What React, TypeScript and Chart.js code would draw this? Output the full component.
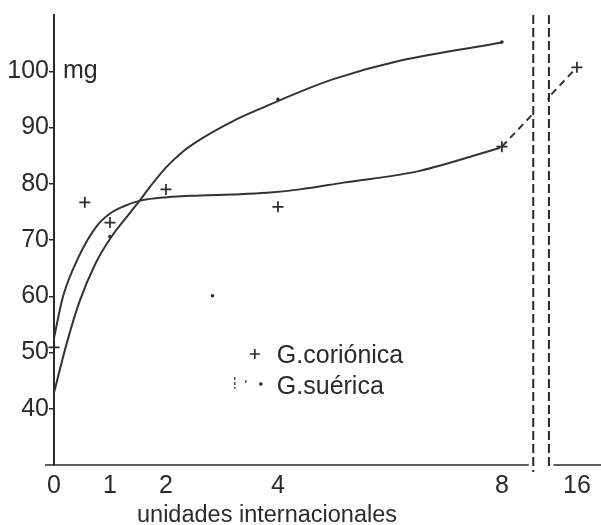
import React, { useEffect, useRef } from "react";
import { Chart, registerables } from "chart.js";

Chart.register(...registerables);

// ---- data ----
// x tick doses (unidades internacionales) and their labels
const xTickDoses = [0, 1, 2, 4, 8, 16];
const xTickLabels = ["0", "1", "2", "4", "8", "16"];
const yTickValues = [40, 50, 60, 70, 80, 90, 100];

// fitted curve, G. coriónica
const corCurveX = [0, 0.16, 0.44, 0.75, 1.0, 1.25, 1.54, 2.02, 2.61, 3.2, 3.8, 4.39, 5.17, 6.49, 7.97];
const corCurveY = [52.6, 59.9, 67.0, 72.3, 74.7, 76.0, 77.0, 77.6, 77.9, 78.1, 78.4, 79.0, 80.2, 82.2, 86.4];

// fitted curve, G. suérica
const serCurveX = [0, 0.21, 0.45, 0.75, 1.02, 1.34, 1.53, 1.71, 2.01, 2.3, 2.6, 3.19, 3.79, 4.38, 4.99, 6.19, 8.02];
const serCurveY = [42.8, 51.0, 58.9, 66.0, 70.5, 74.6, 77.0, 79.4, 83.0, 85.7, 87.8, 91.1, 93.8, 96.3, 98.6, 101.9, 105.1];

// measured points, G. coriónica (+)
const corPointX = [0, 0.55, 1, 2, 4, 8, 16];
const corPointY = [50.9, 76.7, 73.1, 79.0, 75.9, 86.6, 100.7];

// dashed extension to 16 U
const corExtX = [8, 16];
const corExtY = [86.6, 100.7];

// measured points, G. suérica (·)
const serPointX = [1, 2.83, 4, 8];
const serPointY = [70.6, 60.1, 95.0, 105.2];

// ---- axis mapping (broken axis after 8) ----
const axisPos = (d: number) => (d <= 8 ? d : 8 + (d - 8) * (1.34 / 8));
const ink = "#2a2a2a";
const lineInk = "#333333";
const family = "'Liberation Sans', Arial, sans-serif";

const toXY = (xs: number[], ys: number[]) => xs.map((x, i) => ({ x: axisPos(x), y: ys[i] }));

const decor = {
  id: "decor",
  afterDatasetsDraw(chart: any) {
    const { ctx, scales, chartArea } = chart;
    const x = scales.x;
    const y = scales.y;
    const b1 = x.getPixelForValue(8.56);
    const b2 = x.getPixelForValue(8.84);
    const base = y.getPixelForValue(30);
    ctx.save();
    // gap between break lines
    ctx.fillStyle = "#ffffff";
    ctx.fillRect(b1 + 1.5, chartArea.top - 5, b2 - b1 - 3, base - chartArea.top + 20);
    // x axis segments
    ctx.strokeStyle = ink;
    ctx.lineWidth = 1.6;
    ctx.beginPath();
    ctx.moveTo(x.getPixelForValue(0) - 9, base);
    ctx.lineTo(x.getPixelForValue(8.48), base);
    ctx.moveTo(x.getPixelForValue(8.92), base);
    ctx.lineTo(chart.width, base);
    ctx.stroke();
    // break lines
    ctx.lineWidth = 2;
    ctx.setLineDash([9, 4]);
    ctx.beginPath();
    ctx.moveTo(b1, chartArea.top);
    ctx.lineTo(b1, base + 7);
    ctx.moveTo(b2, chartArea.top);
    ctx.lineTo(b2, base + 3);
    ctx.stroke();
    ctx.setLineDash([]);
    ctx.restore();
  },
  afterDraw(chart: any) {
    const { ctx, scales } = chart;
    const x = scales.x;
    const y = scales.y;
    ctx.save();
    ctx.fillStyle = ink;
    ctx.strokeStyle = ink;
    ctx.textBaseline = "alphabetic";
    ctx.textAlign = "left";
    ctx.font = `25px ${family}`;
    // unit label
    ctx.fillText("mg", x.getPixelForValue(0) + 9, y.getPixelForValue(98.8));
    // legend
    const lx = x.getPixelForValue(3.98);
    ctx.fillText("G.coriónica", lx, 363);
    ctx.fillText("G.suérica", lx, 394);
    ctx.lineWidth = 1.6;
    ctx.beginPath();
    ctx.moveTo(lx - 27, 354);
    ctx.lineTo(lx - 17, 354);
    ctx.moveTo(lx - 22, 349);
    ctx.lineTo(lx - 22, 359);
    ctx.stroke();
    ctx.lineWidth = 1.2;
    ctx.setLineDash([3, 2]);
    ctx.beginPath();
    ctx.moveTo(lx - 42, 377);
    ctx.lineTo(lx - 42, 389);
    ctx.moveTo(lx - 31, 380);
    ctx.lineTo(lx - 31, 384);
    ctx.stroke();
    ctx.setLineDash([]);
    ctx.beginPath();
    ctx.arc(lx - 16, 384, 1.8, 0, Math.PI * 2);
    ctx.fill();
    // axis title
    ctx.font = `23.5px ${family}`;
    ctx.textAlign = "center";
    ctx.fillText("unidades internacionales", 267, 522);
    ctx.restore();
  },
};

export default function App() {
  const ref = useRef<HTMLCanvasElement>(null);
  useEffect(() => {
    document.body.style.margin = "0";
    const canvas = ref.current!;
    const chart = new Chart(canvas, {
      type: "scatter",
      data: {
        datasets: [
          {
            type: "line",
            data: toXY(corCurveX, corCurveY),
            borderColor: lineInk,
            borderWidth: 2,
            pointRadius: 0,
            cubicInterpolationMode: "monotone",
            fill: false,
            clip: false,
          },
          {
            type: "line",
            data: toXY(serCurveX, serCurveY),
            borderColor: lineInk,
            borderWidth: 2,
            pointRadius: 0,
            cubicInterpolationMode: "monotone",
            fill: false,
            clip: false,
          },
          {
            type: "line",
            data: toXY(corExtX, corExtY),
            borderColor: lineInk,
            borderWidth: 2,
            borderDash: [7, 5],
            pointRadius: 0,
            fill: false,
          },
          {
            label: "G.coriónica",
            data: toXY(corPointX, corPointY),
            pointStyle: "cross",
            pointRadius: 5.5,
            borderColor: ink,
            pointBorderWidth: 1.7,
            showLine: false,
            clip: false,
          },
          {
            label: "G.suérica",
            data: toXY(serPointX, serPointY),
            pointStyle: "circle",
            pointRadius: 1.8,
            backgroundColor: ink,
            borderColor: ink,
            pointBorderWidth: 0,
            showLine: false,
            clip: false,
          },
        ],
      } as any,
      options: {
        animation: false,
        responsive: false,
        layout: { autoPadding: false, padding: { top: 15, right: 0, left: 0, bottom: 0 } },
        plugins: { legend: { display: false }, tooltip: { enabled: false } },
        scales: {
          x: {
            type: "linear",
            min: 0,
            max: 9.77,
            afterBuildTicks: (s: any) => {
              s.ticks = xTickDoses.map((d) => ({ value: axisPos(d) }));
            },
            afterFit: (s: any) => {
              s.height = 60;
              s.paddingLeft = 0;
              s.paddingRight = 0;
            },
            ticks: {
              autoSkip: false,
              maxRotation: 0,
              padding: -2,
              color: ink,
              font: { size: 25, family },
              callback: (_v: any, i: number) => xTickLabels[i],
            },
            grid: { display: false },
            border: { display: false },
          },
          y: {
            type: "linear",
            min: 30,
            max: 110,
            afterBuildTicks: (s: any) => {
              s.ticks = yTickValues.map((v) => ({ value: v }));
            },
            afterFit: (s: any) => {
              s.width = 54;
              s.paddingTop = 0;
              s.paddingBottom = 0;
            },
            ticks: {
              padding: 0,
              color: ink,
              font: { size: 25, family },
            },
            grid: { drawOnChartArea: false, tickLength: 5, color: ink, lineWidth: 1.5 },
            border: { display: true, color: ink, width: 2 },
          },
        },
      } as any,
      plugins: [decor],
    });
    return () => chart.destroy();
  }, []);
  return <canvas ref={ref} width={601} height={525} style={{ display: "block" }} />;
}
